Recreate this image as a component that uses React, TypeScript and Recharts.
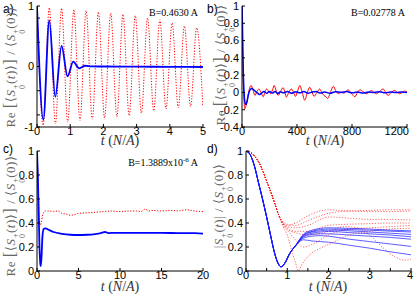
import React from 'react';
import { LineChart, Line, XAxis, YAxis } from 'recharts';

const SANS = '"Liberation Sans", Arial, Helvetica, sans-serif';
const SERIF = '"Liberation Serif", "DejaVu Serif", "Times New Roman", serif';

// ---------- panel a (B = 0.4630 A) ----------
const aTicksX = [0, 1, 2, 3, 4, 5];
const aTicksY = [-1, -0.8, -0.4, 0, 0.4, 0.8, 1];
const aLabelsY = [-1, 0, 1];
const aRed = [[0,1],[0.185,-0.97],[0.37,0.97],[0.555,-0.95],[0.74,0.96],[0.925,-0.92],[1.11,0.94],[1.295,-0.89],[1.48,0.92],[1.665,-0.87],[1.85,0.9],[2.035,-0.85],[2.22,0.88],[2.405,-0.83],[2.59,0.86],[2.775,-0.81],[2.96,0.84],[3.145,-0.77],[3.33,0.8],[3.515,-0.73],[3.7,0.77],[3.885,-0.7],[4.07,0.72],[4.255,-0.68],[4.44,0.67],[4.625,-0.66],[4.81,0.64],[4.995,-0.65]];
const aBlue = [[0,1],[0.19,-0.88],[0.37,0.76],[0.55,-0.5],[0.74,0.34],[0.92,-0.16],[1.09,0.08],[1.27,-0.03],[1.45,0.012],[1.65,0.002],[2,0],[3,-0.003],[4,-0.005],[5,-0.008]];

// ---------- panel b (B = 0.02778 A) ----------
const bTicksX = [0, 400, 800, 1200];
const bTicksY = [-0.4, -0.2, 0, 0.2, 0.4, 0.6, 0.8, 1];
const bRed = [[0,1],[5,0.5],[10,0.1],[15,-0.1],[20,-0.19],[30,-0.15],[45,-0.02],[65,0.08],[80,0.03],[94,-0.035],[108,0.01],[123,0.04],[138,0],[154,-0.05],[166,0],[178,0.04],[195,0.01],[210,-0.015],[222,0.03],[234,0.08],[248,0.02],[263,-0.035],[280,0.01],[299,0.055],[312,0],[323,-0.055],[340,0],[360,0.04],[375,0],[389,-0.046],[405,0.02],[420,0.08],[438,0],[456,-0.09],[475,0],[493,0.06],[508,0.01],[524,-0.046],[545,0],[565,0.04],[580,0],[596,-0.035],[610,-0.05],[623,-0.07],[645,0.01],[664,0.07],[682,0.02],[700,-0.015],[720,0.005],[740,-0.01],[755,0.01],[772,0.03],[795,-0.01],[821,-0.05],[840,0],[857,0.03],[880,0.01],[906,-0.015],[925,0.005],[942,0.023],[960,0],[978,-0.015],[1000,0.01],[1026,0.04],[1045,0],[1062,-0.035],[1085,0],[1111,0.023],[1130,0],[1147,-0.015],[1165,0],[1183,0.015],[1200,0.005]];
const bBlue = [[0,1],[3,0.8],[6,0.5],[10,0.2],[15,0],[20,-0.1],[28,-0.14],[36,-0.11],[45,-0.04],[55,0.02],[70,0.045],[85,0.03],[100,0.01],[115,-0.01],[125,-0.025],[140,-0.01],[160,0.01],[180,-0.01],[200,0.012],[220,-0.008],[240,0.01],[260,-0.012],[280,0.008],[300,-0.005],[330,0.01],[360,-0.01],[390,0.008],[420,-0.005],[450,0.01],[480,-0.01],[510,0.005],[540,0.01],[570,-0.008],[600,0.005],[640,-0.01],[680,0.008],[720,0],[760,0.01],[800,-0.005],[840,0.005],[880,-0.008],[920,0.005],[960,0],[1000,0.008],[1040,-0.005],[1080,0.005],[1120,0],[1160,0.005],[1200,0]];

// ---------- panel c (B = 1.3889x10^-6 A) ----------
const cTicksX = [0, 5, 10, 15, 20];
const cTicksY = [0, 0.2, 0.4, 0.6, 0.8, 1];
const cRed = [[0,1],[0.1,0.82],[0.2,0.58],[0.3,0.42],[0.4,0.38],[0.5,0.4],[0.7,0.47],[1,0.5],[1.5,0.5],[2,0.495],[2.5,0.5],[3,0.48],[3.5,0.475],[4,0.465],[4.5,0.47],[5,0.48],[6,0.485],[7,0.49],[8,0.495],[9,0.5],[10,0.495],[11,0.5],[12,0.5],[12.5,0.495],[13,0.515],[13.5,0.5],[14,0.505],[15,0.5],[16,0.505],[17,0.5],[18,0.51],[19,0.5],[20,0.495]];
const cBlue = [[0,1],[0.1,0.8],[0.2,0.5],[0.3,0.2],[0.4,0.06],[0.45,0.04],[0.55,0.12],[0.65,0.28],[0.8,0.35],[1,0.355],[1.5,0.34],[2,0.325],[3,0.31],[4,0.302],[5,0.3],[6,0.302],[7,0.308],[7.8,0.318],[8.2,0.325],[8.6,0.316],[9.5,0.318],[11,0.318],[13,0.318],[15,0.317],[17,0.316],[19,0.315],[20,0.312]];

// ---------- panel d (|S(t)|) ----------
const dTicksX = [0, 0.5, 1, 1.5, 2, 2.5, 3, 3.5, 4];
const dLabelsX = [0, 1, 2, 3, 4];
const dTicksY = [0, 0.2, 0.4, 0.6, 0.8, 1];
const dBlueHead = [[0,1],[0.1,0.97],[0.2,0.88],[0.3,0.74],[0.4,0.6],[0.5,0.45],[0.6,0.29],[0.7,0.14],[0.8,0.05],[0.85,0.035],[0.95,0.07],[1.05,0.14],[1.2,0.21]];
const dBlue1 = [...dBlueHead, [1.4,0.31],[1.6,0.34],[1.8,0.355],[2,0.36],[2.5,0.355],[3,0.35],[3.5,0.34],[4,0.335]];
const dBlue2 = [...dBlueHead, [1.4,0.3],[1.6,0.33],[1.8,0.345],[2,0.35],[2.5,0.345],[3,0.34],[3.5,0.332],[4,0.325]];
const dBlue3 = [...dBlueHead, [1.4,0.3],[1.6,0.325],[1.8,0.335],[2,0.34],[2.5,0.335],[3,0.325],[3.5,0.315],[4,0.305]];
const dBlue4 = [...dBlueHead, [1.4,0.29],[1.6,0.315],[1.8,0.325],[2,0.33],[2.5,0.32],[3,0.31],[3.5,0.3],[4,0.285]];
const dBlue5 = [...dBlueHead, [1.4,0.285],[1.6,0.305],[1.8,0.31],[2,0.31],[2.5,0.3],[3,0.29],[3.5,0.28],[4,0.265]];
const dBlue6 = [...dBlueHead, [1.4,0.275],[1.6,0.29],[1.8,0.295],[2,0.29],[2.5,0.265],[3,0.245],[3.5,0.225],[4,0.205]];
const dBlue7 = [...dBlueHead, [1.4,0.26],[1.6,0.25],[1.8,0.245],[2,0.24],[2.5,0.215],[3,0.19],[3.5,0.16],[4,0.135]];
const dRedHead = [[0,1],[0.1,0.99],[0.2,0.96],[0.35,0.88],[0.5,0.75],[0.6,0.66],[0.7,0.56],[0.8,0.46]];
const dRed1 = [...dRedHead, [0.9,0.41],[1,0.39],[1.2,0.38],[1.5,0.42],[2,0.48],[2.5,0.5],[3,0.505],[3.5,0.51],[4,0.51]];
const dRed2 = [...dRedHead, [0.9,0.4],[1,0.38],[1.2,0.4],[1.5,0.46],[2,0.51],[2.5,0.5],[3,0.495],[3.5,0.495],[4,0.5]];
const dRed3 = [...dRedHead, [0.9,0.4],[1,0.37],[1.2,0.36],[1.5,0.38],[2,0.45],[2.5,0.44],[3,0.43],[3.5,0.43],[4,0.425]];
const dRed4 = [...dRedHead, [0.9,0.39],[1,0.36],[1.2,0.33],[1.5,0.33],[2,0.38],[2.5,0.39],[3,0.395],[3.5,0.4],[4,0.4]];
const dRed5 = [...dRedHead, [0.9,0.38],[1,0.34],[1.2,0.26],[1.4,0.2],[1.6,0.22],[2,0.3],[2.5,0.35],[3,0.36],[3.5,0.37],[4,0.38]];
const dRed6 = [...dRedHead, [0.9,0.37],[1,0.3],[1.1,0.18],[1.2,0.07],[1.27,0],[1.35,0.05],[1.5,0.12],[1.8,0.19],[2,0.22],[2.5,0.3],[3,0.33],[3.5,0.35],[4,0.356]];
const dRed7 = [...dRedHead, [0.9,0.39],[1,0.35],[1.2,0.32],[1.5,0.3],[2,0.33],[2.4,0.37],[2.7,0.36],[3,0.3],[3.3,0.2],[3.6,0.12],[3.85,0.09],[4,0.1]];

const toPts = (arr: number[][]) => arr.map(([t, v]) => ({ t, v }));

const YW = 40, XH = 24, MT = 10, MR = 14;

function Panel(props: any) {
  const { px, py, pw, ph, xd, yd, xt, yt, xl, yl, children } = props;
  const fmt = (labels: number[] | undefined) => (v: number) => (!labels || labels.includes(v) ? String(v) : '');
  const tickStyle = { fontSize: 11, fill: '#000', fontFamily: SANS };
  const plotRight = YW + pw;
  const XTick = (p: any) => {
    const v = p.payload.value;
    const s = !xl || xl.includes(v) ? String(v) : '';
    if (!s) return null;
    const w = s.length * 6.1;
    let x = p.x;
    let anchor = 'middle';
    if (px - YW + x + w / 2 > 413) { x = plotRight + 2; anchor = 'end'; }
    return (
      <text x={x} y={p.y} dy="0.71em" textAnchor={anchor} fontSize={11} fill="#000" fontFamily={SANS}>{s}</text>
    );
  };
  return (
    <div style={{ position: 'absolute', left: px - YW, top: py - MT }}>
      <LineChart width={YW + pw + MR} height={MT + ph + XH} margin={{ top: MT, right: MR, left: 0, bottom: 0 }}>
        <XAxis xAxisId="b" dataKey="t" type="number" domain={xd} ticks={xt} allowDataOverflow interval={0}
          height={XH} tickSize={-3} tickMargin={3} tick={XTick} stroke="#000" />
        <XAxis xAxisId="t" orientation="top" dataKey="t" type="number" domain={xd} ticks={xt} allowDataOverflow interval={0}
          tick={false} height={0} tickSize={-3} stroke="#000" />
        <YAxis yAxisId="l" type="number" domain={yd} ticks={yt} allowDataOverflow interval={0}
          tickFormatter={fmt(yl)} width={YW} tickSize={-3} tickMargin={6} tick={tickStyle} stroke="#000" />
        <YAxis yAxisId="r" orientation="right" type="number" domain={yd} ticks={yt} allowDataOverflow interval={0}
          tick={false} width={0} tickSize={-3} stroke="#000" />
        {children}
      </LineChart>
    </div>
  );
}

const line = (key: string, arr: number[][], stroke: string, width: number, dash?: string, opacity = 1) => (
  <Line key={key} data={toPts(arr)} dataKey="v" xAxisId="b" yAxisId="l" type="monotone" stroke={stroke}
    strokeWidth={width} strokeDasharray={dash} strokeOpacity={opacity} dot={false} activeDot={false} isAnimationActive={false} />
);

function S0() {
  return (
    <span>
      <i>S</i>
      <span style={{ display: 'inline-flex', flexDirection: 'column', fontSize: '0.62em', lineHeight: 0.9, verticalAlign: '-0.35em', marginLeft: 0.5 }}>
        <span>+</span>
        <span>0</span>
      </span>
    </span>
  );
}

function ReLabel() {
  return (
    <span>
      Re <span style={{ fontSize: '1.3em' }}>[</span>⟨<S0 />(<i>t</i>)⟩<span style={{ fontSize: '1.3em' }}>]</span> / ⟨<S0 />(0)⟩
    </span>
  );
}

function AbsLabel() {
  return (
    <span>
      |<S0 />(<i>t</i>)| / ⟨<S0 />(0)⟩
    </span>
  );
}

function YLab({ cx, cy, children }: any) {
  return (
    <div style={{ position: 'absolute', left: cx, top: cy, transform: 'translate(-50%, -50%) rotate(-90deg)', whiteSpace: 'nowrap',
      fontFamily: SERIF, fontSize: 13, letterSpacing: 0.5, color: '#666', lineHeight: 1 }}>
      {children}
    </div>
  );
}

function XLab({ cx, top }: any) {
  return (
    <div style={{ position: 'absolute', left: cx - 30, width: 60, top, textAlign: 'center', fontFamily: SERIF, fontSize: 14, color: '#333', lineHeight: '11px', whiteSpace: 'nowrap' }}>
      <i>t</i>&nbsp;(<i>N</i>/<i>A</i>)
    </div>
  );
}

function Txt({ left, top, size, font, children, right }: any) {
  const style: any = { position: 'absolute', top, fontFamily: font, fontSize: size, lineHeight: 1, whiteSpace: 'nowrap', color: '#000' };
  if (right !== undefined) { style.left = right - 120; style.width = 120; style.textAlign = 'right'; } else { style.left = left; }
  return <div style={style}>{children}</div>;
}

export default function App() {
  return (
    <div style={{ position: 'absolute', left: 0, top: 0, width: 415, height: 296, background: '#fff', overflow: 'hidden' }}>
      <Panel px={37} py={6} pw={166} ph={121} xd={[0, 5]} yd={[-1, 1]} xt={aTicksX} yt={aTicksY} yl={aLabelsY}>
        {line('ar', aRed, '#ff0000', 1, '1.2 1.6')}
        {line('ab', aBlue, '#0000ff', 1.8)}
      </Panel>
      <Panel px={242} py={6} pw={165} ph={121} xd={[0, 1200]} yd={[-0.4, 1]} xt={bTicksX} yt={bTicksY}>
        {line('br', bRed, '#ff0000', 1)}
        {line('bb', bBlue, '#0000ff', 1.5)}
      </Panel>
      <Panel px={37} py={151} pw={166} ph={120} xd={[0, 20]} yd={[0, 1]} xt={cTicksX} yt={cTicksY}>
        {line('cr', cRed, '#ff0000', 1, '1.2 1.6')}
        {line('cb', cBlue, '#0000ff', 1.8)}
      </Panel>
      <Panel px={246} py={151} pw={165} ph={120} xd={[0, 4]} yd={[0, 1]} xt={dTicksX} xl={dLabelsX} yt={dTicksY}>
        {line('dr1', dRed1, '#ff0000', 1, '1.2 1.6', 0.6)}
        {line('dr2', dRed2, '#ff0000', 1, '1.2 1.6', 0.6)}
        {line('dr3', dRed3, '#ff0000', 1, '1.2 1.6', 0.6)}
        {line('dr4', dRed4, '#ff0000', 1, '1.2 1.6', 0.6)}
        {line('dr5', dRed5, '#ff0000', 1, '1.2 1.6', 0.6)}
        {line('dr6', dRed6, '#ff0000', 1, '1.2 1.6', 0.6)}
        {line('dr7', dRed7, '#ff0000', 1, '1.2 1.6', 0.6)}
        {line('db1', dBlue1, '#1a1aff', 1, undefined, 0.7)}
        {line('db2', dBlue2, '#1a1aff', 1, undefined, 0.7)}
        {line('db3', dBlue3, '#1a1aff', 1, undefined, 0.7)}
        {line('db4', dBlue4, '#1a1aff', 1, undefined, 0.7)}
        {line('db5', dBlue5, '#1a1aff', 1, undefined, 0.7)}
        {line('db6', dBlue6, '#1a1aff', 1, undefined, 0.7)}
        {line('db7', dBlue7, '#1a1aff', 1, undefined, 0.7)}
      </Panel>

      <Txt left={3} top={3} size={12} font={SANS}>a)</Txt>
      <Txt left={207} top={3} size={12} font={SANS}>b)</Txt>
      <Txt left={3} top={143} size={12} font={SANS}>c)</Txt>
      <Txt left={207} top={143} size={12} font={SANS}>d)</Txt>

      <Txt right={198} top={8} size={10} font={SERIF}>B=0.4630 A</Txt>
      <Txt right={405} top={8} size={10} font={SERIF}>B=0.02778 A</Txt>
      <Txt right={198} top={157} size={10} font={SERIF}>B=1.3889x10<sup style={{ fontSize: 7 }}>-6</sup> A</Txt>

      <XLab cx={120} top={135} />
      <XLab cx={325} top={135} />
      <XLab cx={120} top={281} />
      <XLab cx={328} top={281} />

      <YLab cx={14} cy={67}><ReLabel /></YLab>
      <YLab cx={224} cy={65}><ReLabel /></YLab>
      <YLab cx={14} cy={216}><ReLabel /></YLab>
      <YLab cx={223} cy={206}><AbsLabel /></YLab>
    </div>
  );
}
